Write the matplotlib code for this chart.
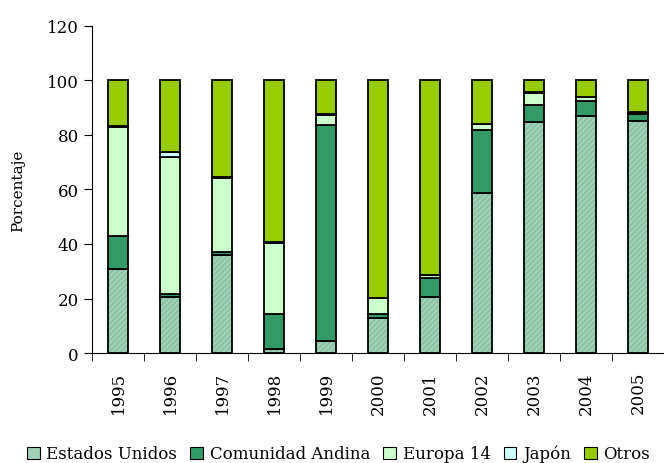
import matplotlib.pyplot as plt
import numpy as np

plt.rcParams['font.family'] = 'DejaVu Serif'

years = ['1995', '1996', '1997', '1998', '1999', '2000', '2001', '2002', '2003', '2004', '2005']

# porcentajes por destino (lectura del grafico)
estadosUnidos = [30.7, 20.6, 35.9, 1.5, 4.5, 12.7, 20.6, 58.6, 84.8, 87.0, 85.2]
comunidadAndina = [12.2, 0.9, 1.3, 12.9, 79.0, 1.6, 7.0, 23.2, 6.1, 5.4, 2.4]
europa14 = [40.1, 50.3, 27.1, 26.0, 4.0, 5.8, 1.0, 2.1, 4.6, 1.4, 0.5]
japon = [0.2, 1.9, 0.3, 0.2, 0.3, 0.1, 0.2, 0.2, 0.2, 0.2, 0.2]
otros = [16.8, 26.3, 35.4, 59.4, 12.2, 79.8, 71.2, 15.9, 4.3, 6.0, 11.7]

series = [
    ('Estados Unidos', estadosUnidos, '#9fd1b6'),
    ('Comunidad Andina', comunidadAndina, '#339966'),
    ('Europa 14', europa14, '#ccffcc'),
    ('Japón', japon, '#ccffff'),
    ('Otros', otros, '#99cc00'),
]

fig = plt.figure(figsize=(6.64, 4.64), dpi=100)
ax = fig.add_axes([0.1386, 0.237, 0.8614, 0.705])

x = np.arange(len(years))
width = 0.39
bottom = np.zeros(len(years))
handles = []
for name, values, color in series:
    values = np.array(values)
    if name == 'Estados Unidos':
        # trama fina
        ax.bar(x, values, width, bottom=bottom, color=color, hatch='//////',
               edgecolor='#86bd9f', linewidth=0)
        ax.bar(x, values, width, bottom=bottom, fill=False, edgecolor='black', linewidth=1.3)
    else:
        ax.bar(x, values, width, bottom=bottom, color=color, edgecolor='black', linewidth=1.3)
    handles.append(plt.Rectangle((0, 0), 1, 1, facecolor=color, edgecolor='black', linewidth=0.8))
    bottom += values

ax.set_xlim(-0.5, len(years) - 0.5)
ax.set_ylim(0, 120)
ax.set_yticks(range(0, 121, 20))
ax.set_xticks(x)
ax.set_xticklabels(years, rotation=90, fontsize=12)
ax.set_xticks(np.arange(-0.5, len(years), 1), minor=True)
ax.tick_params(axis='x', which='major', length=0, pad=13)
ax.tick_params(axis='x', which='minor', length=6, direction='out')
ax.tick_params(axis='y', length=6, direction='out', labelsize=12)
ax.spines['top'].set_visible(False)
ax.spines['right'].set_visible(False)
ax.set_ylabel('Porcentaje', fontsize=11, labelpad=16)

fig.legend(handles, [s[0] for s in series], loc='center', bbox_to_anchor=(0.51, 0.02),
           ncol=5, frameon=False, fontsize=12, handlelength=0.75, handleheight=0.75,
           handletextpad=0.4, columnspacing=0.8, borderaxespad=0)

fig.savefig('out.png', dpi=100)
